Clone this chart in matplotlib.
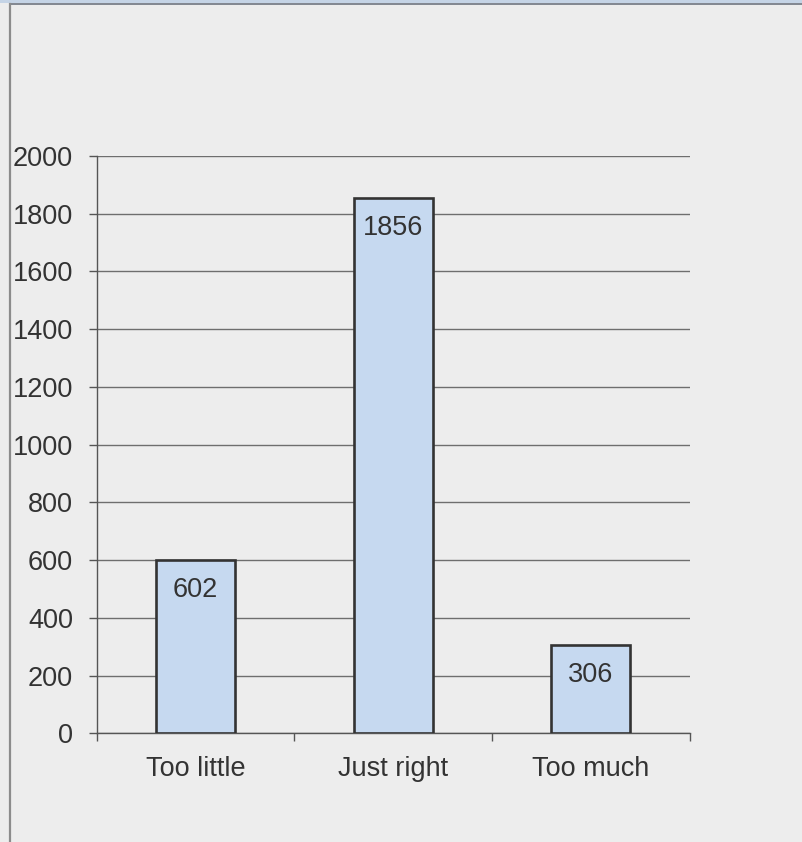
import matplotlib
matplotlib.use("Agg")
import matplotlib.pyplot as plt
from matplotlib.patches import Rectangle
from matplotlib.lines import Line2D

categories = ["Too little", "Just right", "Too much"]
values = [602, 1856, 306]
yticks = [0, 200, 400, 600, 800, 1000, 1200, 1400, 1600, 1800, 2000]

plt.rcParams['font.family'] = ['Liberation Sans', 'DejaVu Sans']

W, H = 802, 842
fig = plt.figure(figsize=(W / 100, H / 100), dpi=100)
bg = "#ededed"
fig.patch.set_facecolor(bg)

# frame pieces (cropped chart window)
fig.add_artist(Rectangle((0, 1 - 3 / H), 1, 3 / H, transform=fig.transFigure,
                         facecolor="#c5d4e6", edgecolor="none", zorder=0))
fig.add_artist(Line2D([9.5 / W, 1], [1 - 3.8 / H, 1 - 3.8 / H], transform=fig.transFigure,
                      color="#6f7680", lw=1.2))
fig.add_artist(Line2D([10 / W, 10 / W], [0, 1 - 3.8 / H], transform=fig.transFigure,
                      color="#8c8c8c", lw=1.6))

x0, x1 = 96.7, 689.7
y_top, y_bot = 156, 733.3
ax = fig.add_axes([x0 / W, (H - y_bot) / H, (x1 - x0) / W, (y_bot - y_top) / H])
ax.set_facecolor(bg)

fs = 19.5
xs = list(range(len(categories)))
ax.bar(xs, values, width=0.4, color="#c6d9f0", edgecolor="#333333", linewidth=1.9, zorder=3)
for x, v in zip(xs, values):
    ax.annotate(str(v), (x, v), xytext=(0, -17), textcoords="offset pixels",
                ha="center", va="top", fontsize=fs, color="#333333", zorder=4)

ax.set_xlim(-0.5, len(categories) - 0.5)
ax.set_ylim(0, 2000)
ax.set_yticks(yticks)
ax.set_yticklabels([str(t) for t in yticks])
ax.set_xticks([-0.5, 0.5, 1.5, 2.5])
ax.set_xticklabels([])
ax.set_xticks(xs, minor=True)
ax.set_xticklabels(categories, minor=True)

ax.grid(axis="y", color="#6e6e6e", linewidth=1.0, zorder=0)
ax.set_axisbelow(True)
for s in ["top", "right"]:
    ax.spines[s].set_visible(False)
for s in ["left", "bottom"]:
    ax.spines[s].set_color("#555555")
    ax.spines[s].set_linewidth(1.0)

ax.tick_params(axis="y", which="major", length=6, width=1, color="#555555",
               labelsize=fs, labelcolor="#333333", pad=11)
ax.tick_params(axis="x", which="major", length=6, width=1, color="#555555")
ax.tick_params(axis="x", which="minor", length=0, labelsize=fs,
               labelcolor="#333333", pad=16)

fig.savefig("out.png", dpi=100, facecolor=bg)
